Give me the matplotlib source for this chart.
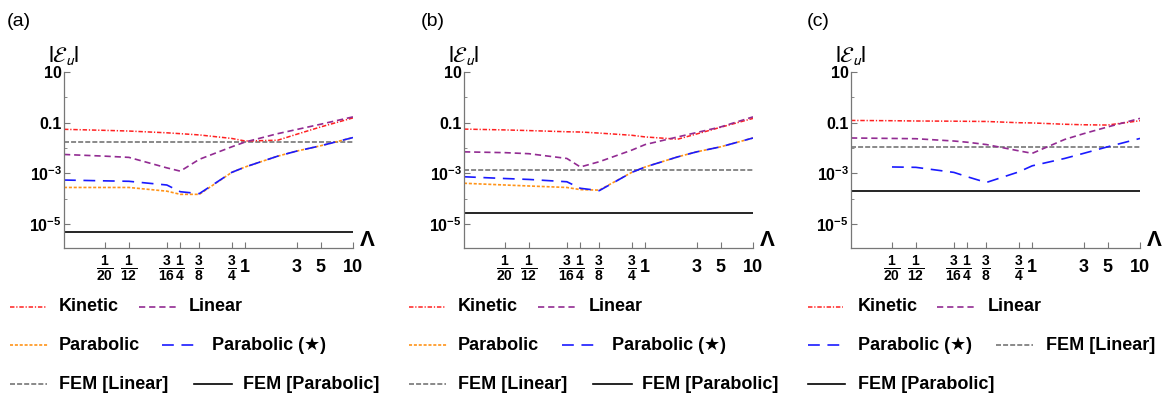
import matplotlib.pyplot as plt
from matplotlib.lines import Line2D
from matplotlib.ticker import FixedLocator, NullLocator, NullFormatter
import numpy as np

plt.rcParams['font.family'] = ['Liberation Sans', 'DejaVu Sans']
plt.rcParams['mathtext.fontset'] = 'custom'
plt.rcParams['mathtext.rm'] = 'Liberation Sans:bold'
plt.rcParams['mathtext.bf'] = 'Liberation Sans:bold'
plt.rcParams['mathtext.it'] = 'Liberation Sans:italic:bold'
plt.rcParams['mathtext.default'] = 'bf'
plt.rcParams['lines.scale_dashes'] = False

# Lambda values where the errors were computed
lam = [1/48, 1/20, 1/12, 3/16, 1/4, 3/8, 3/4, 1, 2, 3, 5, 10]

# (a)
kinetic_a = [0.055, 0.050, 0.047, 0.040, 0.037, 0.033, 0.024, 0.019, 0.0204, 0.035, 0.068, 0.155]
linear_a = [0.0056, 0.0048, 0.0043, 0.00166, 0.00123, 0.0036, 0.0112, 0.0174, 0.037, 0.054, 0.087, 0.170]
parabolic_a = [2.8e-4, 2.8e-4, 2.8e-4, 2.0e-4, 1.5e-4, 1.5e-4, 1.1e-3, 1.8e-3, 4.8e-3, 7.6e-3, 1.23e-2, 2.6e-2]
star_a = [5.5e-4, 5.1e-4, 4.9e-4, 3.5e-4, 1.9e-4, 1.6e-4, 1.1e-3, 1.8e-3, 4.8e-3, 7.6e-3, 1.23e-2, 2.6e-2]
fem_lin_a = 0.0175
fem_par_a = 4.8e-6

# (b)
kinetic_b = [0.056, 0.052, 0.049, 0.044, 0.043, 0.039, 0.032, 0.0275, 0.0224, 0.036, 0.066, 0.148]
linear_b = [0.0071, 0.0066, 0.0060, 0.0039, 0.0018, 0.0029, 0.0083, 0.0138, 0.0275, 0.041, 0.068, 0.170]
parabolic_b = [4.1e-4, 3.5e-4, 3.2e-4, 2.8e-4, 2.3e-4, 2.2e-4, 1.1e-3, 1.8e-3, 4.5e-3, 7.1e-3, 1.12e-2, 2.5e-2]
star_b = [7.4e-4, 6.3e-4, 5.8e-4, 4.7e-4, 2.6e-4, 2.1e-4, 1.1e-3, 1.8e-3, 4.5e-3, 7.1e-3, 1.12e-2, 2.5e-2]
fem_lin_b = 1.38e-3
fem_par_b = 2.8e-5

# (c)  no parabolic curve, parabolic (*) starts at 1/20
kinetic_c = [0.123, 0.120, 0.117, 0.115, 0.1135, 0.112, 0.100, 0.098, 0.087, 0.083, 0.081, 0.120]
linear_c = [0.025, 0.024, 0.0234, 0.019, 0.017, 0.0138, 0.0078, 0.0062, 0.0219, 0.037, 0.068, 0.148]
star_c = [np.nan, 1.8e-3, 1.74e-3, 1.1e-3, 7.4e-4, 4.4e-4, 1.15e-3, 2.0e-3, 3.9e-3, 6.2e-3, 1.12e-2, 2.4e-2]
fem_lin_c = 0.0112
fem_par_c = 2.1e-4

xticks = [1/20, 1/12, 3/16, 1/4, 3/8, 3/4, 1, 3, 5, 10]
xticklabels = [r'$\genfrac{}{}{1.8}{0}{1}{20}$', r'$\genfrac{}{}{1.8}{0}{1}{12}$',
               r'$\genfrac{}{}{1.8}{0}{3}{16}$', r'$\genfrac{}{}{1.8}{0}{1}{4}$',
               r'$\genfrac{}{}{1.8}{0}{3}{8}$', r'$\genfrac{}{}{1.8}{0}{3}{4}$',
               '1', '3', '5', '10']
yticks = [10, 0.1, 1e-3, 1e-5]
yticklabels = ['10', '0.1', r'$10^{-3}$', r'$10^{-5}$']

styles = {
    'Kinetic': dict(color='#ff2020', lw=1.1, ls=(0, (3.2, 1.3, 0.9, 1.3))),
    'Linear': dict(color='#922b92', lw=1.2, ls=(0, (4.5, 2.8))),
    'Parabolic': dict(color='#ff9419', lw=1.2, ls=(0, (2.2, 1.3))),
    'Parabolic (★)': dict(color='#1a1aff', lw=1.2, ls=(0, (8.5, 5.5))),
    'FEM [Linear]': dict(color='#808080', lw=1.3, ls=(0, (3.6, 1.5))),
    'FEM [Parabolic]': dict(color='black', lw=1.2, ls='-'),
}

W, H = 1173, 396
fig = plt.figure(figsize=(W / 100, H / 100), dpi=100)

panels = [
    dict(left=64, tag='(a)', tag_x=19,
         curves=[('Kinetic', kinetic_a), ('Linear', linear_a),
                 ('Parabolic', parabolic_a), ('Parabolic (★)', star_a)],
         fem_lin=fem_lin_a, fem_par=fem_par_a,
         legend=[[('Kinetic', 10, 46, 59), ('Linear', 139, 178, 189)],
                 [('Parabolic', 10, 48, 59), ('Parabolic (★)', 162, 197, 212)],
                 [('FEM [Linear]', 10, 47, 59), ('FEM [Parabolic]', 194, 232, 243)]]),
    dict(left=464, tag='(b)', tag_x=433,
         curves=[('Kinetic', kinetic_b), ('Linear', linear_b),
                 ('Parabolic', parabolic_b), ('Parabolic (★)', star_b)],
         fem_lin=fem_lin_b, fem_par=fem_par_b,
         legend=[[('Kinetic', 409, 445, 458), ('Linear', 538, 577, 589)],
                 [('Parabolic', 409, 447, 458), ('Parabolic (★)', 562, 595, 612)],
                 [('FEM [Linear]', 409, 446, 458), ('FEM [Parabolic]', 593, 632, 642)]]),
    dict(left=851, tag='(c)', tag_x=818,
         curves=[('Kinetic', kinetic_c), ('Linear', linear_c),
                 ('Parabolic (★)', star_c)],
         fem_lin=fem_lin_c, fem_par=fem_par_c,
         legend=[[('Kinetic', 808, 843, 858), ('Linear', 937, 977, 988)],
                 [('Parabolic (★)', 808, 843, 858), ('FEM [Linear]', 996, 1033, 1046)],
                 [('FEM [Parabolic]', 808, 845, 858)]]),
]

row_y = [306.7, 345, 384.3]
ax_top, ax_bottom = 72, 248
ax_w = 289

for p in panels:
    ax = fig.add_axes([p['left'] / W, 1 - ax_bottom / H, ax_w / W, (ax_bottom - ax_top) / H])
    ax.set_xscale('log')
    ax.set_yscale('log')

    ax.axhline(p['fem_lin'], **styles['FEM [Linear]'])
    ax.axhline(p['fem_par'], **styles['FEM [Parabolic]'])
    for name, vals in p['curves']:
        ax.plot(lam, vals, **styles[name])

    ax.set_xlim(1/48, 10)
    ax.set_ylim(10**-5.94, 10)

    for s in ['top', 'right']:
        ax.spines[s].set_visible(False)
    for s in ['left', 'bottom']:
        ax.spines[s].set_color('#777777')
        ax.spines[s].set_linewidth(0.9)

    ax.xaxis.set_major_locator(FixedLocator(xticks))
    ax.xaxis.set_minor_locator(NullLocator())
    ax.set_xticklabels(xticklabels)
    ax.yaxis.set_major_locator(FixedLocator(yticks))
    ax.yaxis.set_minor_locator(FixedLocator([1, 1e-2, 1e-4, 1e-6]))
    ax.yaxis.set_minor_formatter(NullFormatter())
    ax.set_yticklabels(yticklabels)

    ax.tick_params(axis='both', which='major', direction='in', length=4, width=0.8,
                   color='#777777')
    ax.tick_params(axis='both', which='minor', direction='in', length=2, width=0.6,
                   color='#777777')
    ax.tick_params(axis='x', pad=14.4)
    ax.tick_params(axis='y', pad=1.5, labelsize=11.5)
    for lbl in ax.get_yticklabels():
        lbl.set_fontweight('bold')
    for lbl, t in zip(ax.get_xticklabels(), xticks):
        lbl.set_va('center')
        lbl.set_fontweight('bold')
        lbl.set_fontsize(13 if t >= 1 else 10)

    ax.text(0, 1.095, r'$|\mathcal{E}_{\mathit{u}}|$', transform=ax.transAxes,
            ha='center', va='center', fontsize=16, math_fontfamily='stixsans')
    ax.text(1.048, 0.04, 'Λ', transform=ax.transAxes, ha='center', va='center',
            fontsize=16, fontweight='bold')

    fig.text(p['tag_x'] / W, 1 - 21 / H, p['tag'], ha='center', va='center', fontsize=14)

    # legend rows under each panel
    for y, row in zip(row_y, p['legend']):
        for name, x0, x1, xt in row:
            fig.add_artist(Line2D([x0 / W, x1 / W], [1 - y / H, 1 - y / H],
                                  transform=fig.transFigure, **styles[name]))
            fig.text(xt / W, 1 - y / H, name, ha='left', va='center',
                     fontsize=13, fontweight='bold')

fig.savefig('out.png', dpi=100)
